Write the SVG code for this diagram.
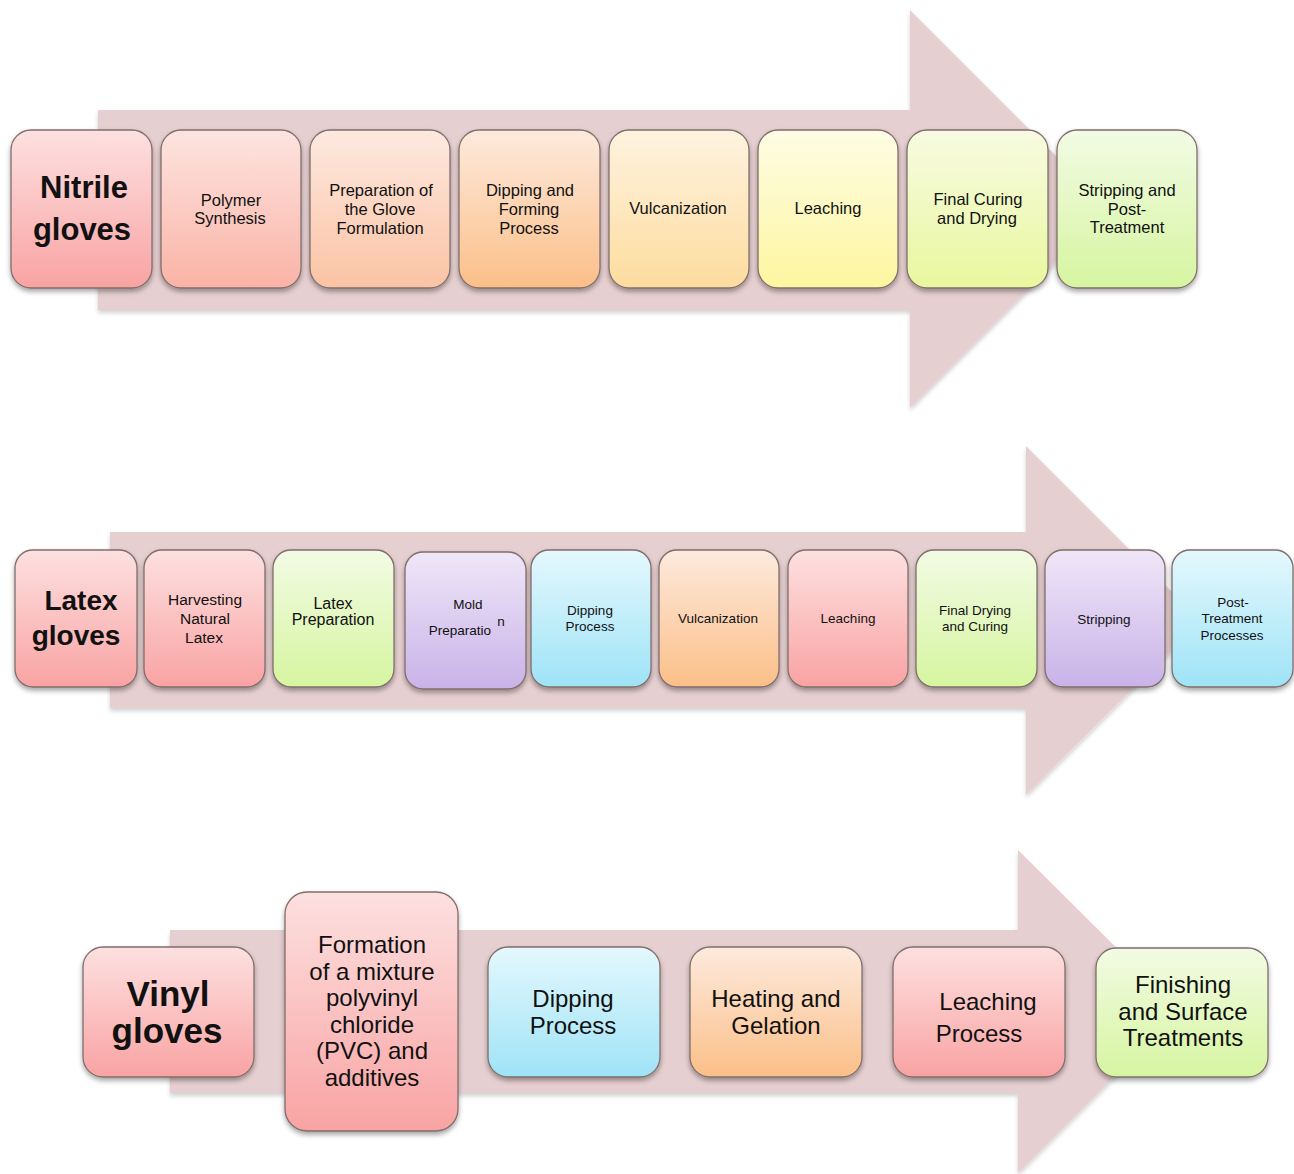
<svg xmlns="http://www.w3.org/2000/svg" width="1294" height="1174" viewBox="0 0 1294 1174">
<defs>
<filter id="sh" x="-10%" y="-10%" width="120%" height="125%"><feDropShadow dx="0" dy="3" stdDeviation="2.5" flood-color="#000" flood-opacity="0.35"/></filter>
<filter id="ash" x="-5%" y="-5%" width="110%" height="110%"><feDropShadow dx="0" dy="3" stdDeviation="2" flood-color="#000" flood-opacity="0.18"/></filter>
<linearGradient id="gPink" x1="0" y1="0" x2="0" y2="1"><stop offset="0" stop-color="#fde0e0"/><stop offset="1" stop-color="#f9a3a3"/></linearGradient>
<linearGradient id="gSalmon" x1="0" y1="0" x2="0" y2="1"><stop offset="0" stop-color="#fde4e0"/><stop offset="1" stop-color="#fab3a6"/></linearGradient>
<linearGradient id="gPeach" x1="0" y1="0" x2="0" y2="1"><stop offset="0" stop-color="#fde9e0"/><stop offset="1" stop-color="#fbc3a4"/></linearGradient>
<linearGradient id="gOrange" x1="0" y1="0" x2="0" y2="1"><stop offset="0" stop-color="#fdeadd"/><stop offset="1" stop-color="#fbbf88"/></linearGradient>
<linearGradient id="gLtOrange" x1="0" y1="0" x2="0" y2="1"><stop offset="0" stop-color="#fef3e0"/><stop offset="1" stop-color="#fddc9e"/></linearGradient>
<linearGradient id="gYellow" x1="0" y1="0" x2="0" y2="1"><stop offset="0" stop-color="#fefce4"/><stop offset="1" stop-color="#fdf6a0"/></linearGradient>
<linearGradient id="gLime" x1="0" y1="0" x2="0" y2="1"><stop offset="0" stop-color="#f8fbe2"/><stop offset="1" stop-color="#e9f79e"/></linearGradient>
<linearGradient id="gGreen" x1="0" y1="0" x2="0" y2="1"><stop offset="0" stop-color="#f2fbe4"/><stop offset="1" stop-color="#d6f5a0"/></linearGradient>
<linearGradient id="gPurple" x1="0" y1="0" x2="0" y2="1"><stop offset="0" stop-color="#efe7f8"/><stop offset="1" stop-color="#c9b2e8"/></linearGradient>
<linearGradient id="gCyan" x1="0" y1="0" x2="0" y2="1"><stop offset="0" stop-color="#e4f8fd"/><stop offset="1" stop-color="#9fe3f7"/></linearGradient>
</defs>
<style>
.arrow{fill:#e6cfd0;filter:url(#ash)}
.box{stroke:#7f6e6b;stroke-width:1.3;filter:url(#sh)}
text{font-family:"Liberation Sans",Arial,sans-serif;fill:#111;text-anchor:middle}
.h{font-weight:bold}
.n{font-size:16.5px}
.l{font-size:13.5px}
.v{font-size:24px}
</style>

<g id="connectors">
<path class="arrow" d="M98,110 H910 V10 L1109,209 L910,408 V310 H98 Z"/>
<path class="arrow" d="M110,532 H1026 V446 L1201,621 L1026,795 V708 H110 Z"/>
<path class="arrow" d="M170,930 H1018 V850 L1180,1011 L1018,1173 V1093 H170 Z"/>
</g>

<!-- Nitrile row -->
<g id="n0"><rect class="box" x="11" y="130" width="141" height="158" rx="20" fill="url(#gPink)"/><text class="h" x="84" y="198" font-size="31">Nitrile</text><text class="h" x="82" y="240" font-size="31">gloves</text></g>
<g id="n1"><rect class="box" x="161" y="130" width="140" height="158" rx="20" fill="url(#gSalmon)"/><text class="n" x="231" y="206">Polymer</text><text class="n" x="230" y="224">Synthesis</text></g>
<g id="n2"><rect class="box" x="310" y="130" width="140" height="158" rx="20" fill="url(#gPeach)"/><text class="n" x="381" y="196">Preparation of</text><text class="n" x="380" y="215">the Glove</text><text class="n" x="380" y="234">Formulation</text></g>
<g id="n3"><rect class="box" x="459" y="130" width="141" height="158" rx="20" fill="url(#gOrange)"/><text class="n" x="530" y="196">Dipping and</text><text class="n" x="529" y="215">Forming</text><text class="n" x="529" y="234">Process</text></g>
<g id="n4"><rect class="box" x="609" y="130" width="140" height="158" rx="20" fill="url(#gLtOrange)"/><text class="n" x="678" y="214">Vulcanization</text></g>
<g id="n5"><rect class="box" x="758" y="130" width="140" height="158" rx="20" fill="url(#gYellow)"/><text class="n" x="828" y="214">Leaching</text></g>
<g id="n6"><rect class="box" x="907" y="130" width="141" height="158" rx="20" fill="url(#gLime)"/><text class="n" x="978" y="205">Final Curing</text><text class="n" x="977" y="224">and Drying</text></g>
<g id="n7"><rect class="box" x="1057" y="130" width="140" height="158" rx="20" fill="url(#gGreen)"/><text class="n" x="1127" y="196">Stripping and</text><text class="n" x="1127" y="215">Post-</text><text class="n" x="1127" y="233">Treatment</text></g>

<!-- Latex row -->
<g id="l0"><rect class="box" x="15" y="550" width="122" height="137" rx="18" fill="url(#gPink)"/><text class="h" x="81" y="610" font-size="28">Latex</text><text class="h" x="76" y="645" font-size="28">gloves</text></g>
<g id="l1"><rect class="box" x="144" y="550" width="121" height="137" rx="18" fill="url(#gPink)"/><text x="205" y="605" font-size="15.5">Harvesting</text><text x="205" y="624" font-size="15.5">Natural</text><text x="204" y="643" font-size="15.5">Latex</text></g>
<g id="l2"><rect class="box" x="273" y="550" width="121" height="137" rx="18" fill="url(#gGreen)"/><text x="333" y="609" font-size="16">Latex</text><text x="333" y="625" font-size="16">Preparation</text></g>
<g id="l3"><rect class="box" x="405" y="552" width="121" height="137" rx="18" fill="url(#gPurple)"/><text class="l" x="468" y="609">Mold</text><text class="l" x="460" y="635">Preparatio</text><text class="l" x="501" y="626">n</text></g>
<g id="l4"><rect class="box" x="531" y="550" width="120" height="137" rx="18" fill="url(#gCyan)"/><text class="l" x="590" y="615">Dipping</text><text class="l" x="590" y="631">Process</text></g>
<g id="l5"><rect class="box" x="659" y="550" width="120" height="137" rx="18" fill="url(#gOrange)"/><text class="l" x="718" y="623">Vulcanization</text></g>
<g id="l6"><rect class="box" x="788" y="550" width="120" height="137" rx="18" fill="url(#gPink)"/><text class="l" x="848" y="623">Leaching</text></g>
<g id="l7"><rect class="box" x="916" y="550" width="121" height="137" rx="18" fill="url(#gGreen)"/><text class="l" x="975" y="615">Final Drying</text><text class="l" x="975" y="631">and Curing</text></g>
<g id="l8"><rect class="box" x="1045" y="550" width="120" height="137" rx="18" fill="url(#gPurple)"/><text class="l" x="1104" y="624">Stripping</text></g>
<g id="l9"><rect class="box" x="1172" y="550" width="121" height="137" rx="18" fill="url(#gCyan)"/><text class="l" x="1233" y="607">Post-</text><text class="l" x="1232" y="623">Treatment</text><text class="l" x="1232" y="640">Processes</text></g>

<!-- Vinyl row -->
<g id="v0"><rect class="box" x="83" y="947" width="171" height="130" rx="20" fill="url(#gPink)"/><text class="h" x="168" y="1006" font-size="35">Vinyl</text><text class="h" x="167" y="1043" font-size="35">gloves</text></g>
<g id="v1"><rect class="box" x="285" y="892" width="173" height="239" rx="22" fill="url(#gPink)"/><text class="v" x="372" y="953">Formation</text><text class="v" x="372" y="980">of a mixture</text><text class="v" x="372" y="1006">polyvinyl</text><text class="v" x="372" y="1033">chloride</text><text class="v" x="372" y="1059">(PVC) and</text><text class="v" x="372" y="1086">additives</text></g>
<g id="v2"><rect class="box" x="488" y="947" width="172" height="130" rx="20" fill="url(#gCyan)"/><text class="v" x="573" y="1007">Dipping</text><text class="v" x="573" y="1034">Process</text></g>
<g id="v3"><rect class="box" x="690" y="947" width="172" height="130" rx="20" fill="url(#gOrange)"/><text class="v" x="776" y="1007">Heating and</text><text class="v" x="776" y="1034">Gelation</text></g>
<g id="v4"><rect class="box" x="893" y="947" width="172" height="130" rx="20" fill="url(#gPink)"/><text class="v" x="988" y="1010">Leaching</text><text class="v" x="979" y="1042">Process</text></g>
<g id="v5"><rect class="box" x="1096" y="948" width="172" height="129" rx="20" fill="url(#gGreen)"/><text class="v" x="1183" y="993">Finishing</text><text class="v" x="1183" y="1020">and Surface</text><text class="v" x="1183" y="1046">Treatments</text></g>
</svg>
